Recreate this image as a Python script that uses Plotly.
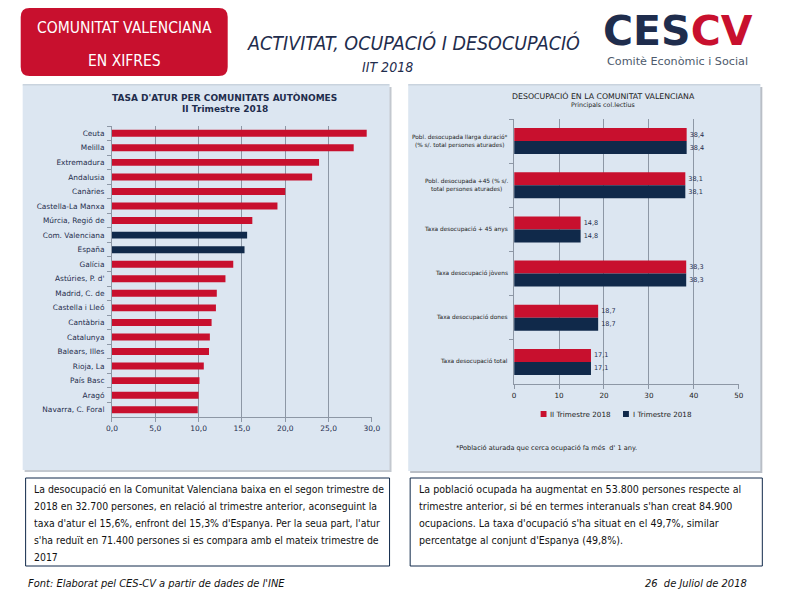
import plotly.graph_objects as go

W, H = 788, 606


def X(px):
    return px / W


def Y(py):
    return 1 - py / H


RED = "#c8102e"
NAVY = "#10294a"
PANEL = "#dce6f1"
TXT = "#1f2d4d"
GRID = "#8d97a5"
NARROW = "Liberation Sans Narrow, DejaVu Sans Condensed, Arial Narrow, sans-serif"
SANS = "DejaVu Sans, Verdana, sans-serif"

# ---------------- data ----------------
regions = ["Ceuta", "Melilla", "Extremadura", "Andalusia", "Canàries",
           "Castella-La Manxa", "Múrcia, Regió de", "Com. Valenciana", "España",
           "Galícia", "Astúries, P. d'", "Madrid, C. de", "Castella i Lleó",
           "Cantàbria", "Catalunya", "Balears, Illes", "Rioja, La", "País Basc",
           "Aragó", "Navarra, C. Foral"]
atur = [29.4, 27.9, 23.9, 23.1, 20.0, 19.1, 16.2, 15.6, 15.3, 14.0, 13.1,
        12.1, 12.0, 11.5, 11.3, 11.2, 10.6, 10.1, 10.0, 9.9]
highlight = ["Com. Valenciana", "España"]
left_ticks = [0, 5, 10, 15, 20, 25, 30]

groups = ["Pobl. desocupada llarga duració*<br>(% s/. total persones aturades)",
          "Pobl. desocupada +45 (% s/.<br>total persones aturades)",
          "Taxa desocupació + 45 anys",
          "Taxa desocupació jòvens",
          "Taxa desocupació dones",
          "Taxa desocupació total"]
q2_2018 = [38.4, 38.1, 14.8, 38.3, 18.7, 17.1]
q1_2018 = [38.4, 38.1, 14.8, 38.3, 18.7, 17.1]
series_names = ["II Trimestre 2018", "I Trimestre 2018"]
right_ticks = [0, 10, 20, 30, 40, 50]

left_text = [
    "La desocupació en la Comunitat Valenciana baixa en el segon trimestre de",
    "2018 en 32.700 persones, en relació al trimestre anterior, aconseguint la",
    "taxa d'atur el 15,6%, enfront del 15,3% d'Espanya. Per la seua part, l'atur",
    "s'ha reduït en 71.400 persones si es compara amb el mateix trimestre de",
    "2017",
]
right_text = [
    "La població ocupada ha augmentat en 53.800 persones respecte al",
    "trimestre anterior, si bé en termes interanuals s'han creat 84.900",
    "ocupacions. La taxa d'ocupació s'ha situat en el 49,7%, similar",
    "percentatge al conjunt d'Espanya (49,8%).",
]

# ---------------- figure ----------------
fig = go.Figure()

fig.add_trace(go.Bar(
    y=regions, x=atur, orientation="h", width=0.48,
    marker=dict(color=[NAVY if r in highlight else RED for r in regions], line=dict(width=0)),
    xaxis="x", yaxis="y", showlegend=False, hoverinfo="x+y",
))

series_colors = [RED, NAVY]
for name, vals, col in zip(series_names, [q2_2018, q1_2018], series_colors):
    fig.add_trace(go.Bar(
        y=groups, x=vals, orientation="h", name=name,
        marker=dict(color=col, line=dict(width=0)),
        text=vals, texttemplate="%{x:.1f}", textposition="outside",
        textfont=dict(size=6.5, color=TXT, family=SANS), cliponaxis=False,
        xaxis="x2", yaxis="y2", showlegend=False,
    ))

axis_common = dict(showline=True, linecolor=GRID, linewidth=1, ticks="outside",
                   tickcolor=GRID, ticklen=4, zeroline=False)

fig.update_layout(
    width=W, height=H, margin=dict(l=0, r=0, t=0, b=0),
    paper_bgcolor="white", plot_bgcolor="white",
    separators=",.", barmode="group", bargap=0.41, bargroupgap=0,
    xaxis=dict(domain=[X(108), X(373)], range=[0, 30], tickvals=left_ticks,
               tickformat=".1f", anchor="y", showgrid=True, gridcolor=GRID,
               gridwidth=1, tickfont=dict(size=7.5, color=TXT, family=SANS),
               **axis_common),
    yaxis=dict(domain=[Y(417), Y(126)], autorange="reversed", type="category",
               anchor="x", showgrid=False, tickson="boundaries",
               ticklabelstandoff=5,
               tickfont=dict(size=7.4, color=TXT, family=SANS),
               **axis_common),
    xaxis2=dict(domain=[X(518), X(747)], range=[0, 50], tickvals=right_ticks,
                anchor="y2", showgrid=True, gridcolor=GRID, gridwidth=1,
                tickfont=dict(size=7.2, color="#222222", family=SANS),
                **axis_common),
    yaxis2=dict(domain=[Y(384), Y(119)], autorange="reversed", type="category",
                anchor="x2", showgrid=False, tickson="boundaries",
                showticklabels=False, **axis_common),
    showlegend=False,
    font=dict(family=SANS, color=TXT),
)

shapes = []


def rect(x0, y0, x1, y1, fill, line=None, lw=0, layer="below"):
    shapes.append(dict(type="rect", xref="paper", yref="paper",
                       x0=X(x0), x1=X(x1), y0=Y(y1), y1=Y(y0),
                       fillcolor=fill, line=dict(color=line or fill, width=lw),
                       layer=layer))


def rounded(x0, y0, x1, y1, r, fill):
    rx, ry = r / W, r / H
    a, b, c, d = X(x0), X(x1), Y(y1), Y(y0)
    path = (f"M {a+rx},{d} L {b-rx},{d} Q {b},{d} {b},{d-ry} L {b},{c+ry} "
            f"Q {b},{c} {b-rx},{c} L {a+rx},{c} Q {a},{c} {a},{c+ry} "
            f"L {a},{d-ry} Q {a},{d} {a+rx},{d} Z")
    shapes.append(dict(type="path", xref="paper", yref="paper", path=path,
                       fillcolor=fill, line=dict(width=0), layer="below"))


# header red box
rounded(15, 8, 226, 76, 9, RED)
# panels with shadows
rect(19, 87, 393, 472, "#c3c8cf")
rect(17, 85, 391, 470, PANEL)
rect(412, 87, 771, 473, "#b9bec6")
rect(410, 85, 769, 471, PANEL)
# top light lines of panels
rect(17, 84, 391, 85.5, "#c9d3de")
rect(410, 84, 769, 85.5, "#c9d3de")
# text boxes
rect(20, 478, 391, 566, "white", NAVY, 1)
rect(412, 478, 771, 566, "white", NAVY, 1)

ann = []


def text(x, y, s, size, color=TXT, family=NARROW, xanchor="center", yanchor="middle", align="center", **kw):
    ann.append(dict(xref="paper", yref="paper", x=X(x), y=Y(y), text=s,
                    showarrow=False, xanchor=xanchor, yanchor=yanchor, align=align,
                    font=dict(size=size, color=color, family=family), **kw))


# manual legend for the right chart (swatch + label)
for (lx, name, col) in zip([545, 629], series_names, series_colors):
    rect(lx, 411, lx + 6, 417, col, layer="above")
    text(lx + 8, 414, name, 7.2, "#222222", family=SANS, xanchor="left")

fig.update_layout(shapes=shapes)

# header
text(121, 28, "COMUNITAT VALENCIANA", 15.5, "white")
text(121, 61, "EN XIFRES", 15.5, "white")
text(415, 43, "<i>ACTIVITAT, OCUPACIÓ I DESOCUPACIÓ</i>", 19.5, TXT)
text(389, 67, "<i>IIT 2018</i>", 14, TXT)
# logo
text(685, 31, "<b>CES<span style='color:%s'>CV</span></b>" % RED, 41, TXT,
     family="DejaVu Sans, Verdana, sans-serif")
text(685, 61.5, "Comitè Econòmic i Social", 11.2, "#4d5a6c", family=SANS)

# left chart title
text(223, 97, "<b>TASA D'ATUR PER COMUNITATS AUTÒNOMES</b>", 9, TXT, family=SANS)
text(223, 109, "<b>II Trimestre 2018</b>", 9, TXT, family=SANS)
# right chart title
text(609, 96, "DESOCUPACIÓ EN LA COMUNITAT VALENCIANA", 7.8, "#222222", family=SANS)
text(609, 105, "Principals col.lectius", 6.3, "#222222", family=SANS)

# right chart category labels
for g in groups:
    ann.append(dict(xref="paper", yref="y2", x=X(514), y=g, text=g, showarrow=False,
                    xanchor="right", yanchor="middle", align="center",
                    font=dict(size=5.8, color="#222222", family=SANS)))

# footnote
text(457, 448, "*Població aturada que cerca ocupació fa més  d' 1 any.", 6.6,
     "#222222", family=SANS, xanchor="left")

# text boxes
for i, line in enumerate(left_text):
    text(27, 489 + 17 * i, line, 10.4, "#111111", xanchor="left")
for i, line in enumerate(right_text):
    text(419, 489 + 17 * i, line, 10.6, "#111111", xanchor="left")

# footer
text(20, 583, "<i>Font: Elaborat pel CES-CV a partir de dades de l'INE</i>", 11, "#111111",
     xanchor="left")
text(757, 583, "<i>26  de Juliol de 2018</i>", 11, "#111111", xanchor="right")

fig.update_layout(annotations=ann)

fig.write_html("out.html", config={"displayModeBar": False},
               post_script="document.body.style.margin='0';"
                           "document.documentElement.style.overflow='hidden';"
                           "document.body.style.overflow='hidden';")
